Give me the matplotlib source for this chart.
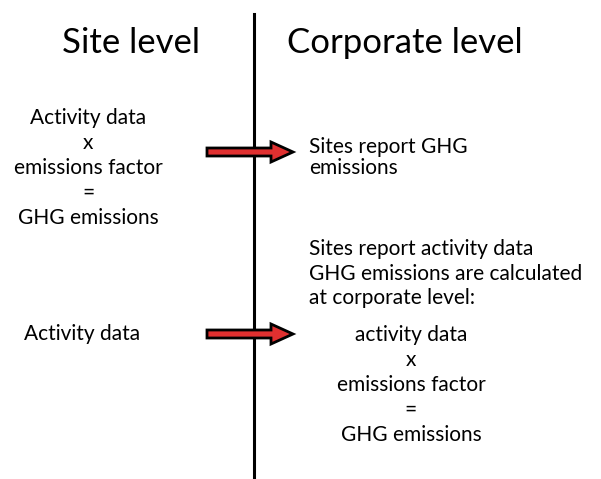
import matplotlib.pyplot as plt
from matplotlib.patches import FancyArrow

plt.rcParams['font.family'] = ['Lato', 'DejaVu Sans']

headers = ["Site level", "Corporate level"]
site_calc = ["Activity data", "x", "emissions factor", "=", "GHG emissions"]
corp_report = ["Sites report GHG", "emissions"]
corp_intro = ["Sites report activity data", "GHG emissions are calculated", "at corporate level:"]
corp_calc = ["activity data", "x", "emissions factor", "=", "GHG emissions"]
site_activity = "Activity data"

fig = plt.figure(figsize=(6.01, 4.79), dpi=100)
ax = fig.add_axes([0, 0, 1, 1])
ax.set_xlim(0, 601)
ax.set_ylim(479, 0)
ax.axis('off')

# divider
ax.plot([254, 254], [14, 479], color='black', lw=2.2)

ax.text(131, 43, headers[0], ha='center', va='center', fontsize=25)
ax.text(405, 43, headers[1], ha='center', va='center', fontsize=25)

fs = 15
for i, s in enumerate(site_calc):
    ax.text(88, 118 + i * 25, s, ha='center', va='center', fontsize=fs)
ax.text(24, 334, site_activity, ha='left', va='center', fontsize=fs)

for i, s in enumerate(corp_report):
    ax.text(309, 147 + i * 21, s, ha='left', va='center', fontsize=fs)
for i, s in enumerate(corp_intro):
    ax.text(309, 249 + i * 24.5, s, ha='left', va='center', fontsize=fs)
for i, s in enumerate(corp_calc):
    ax.text(411, 335 + i * 25, s, ha='center', va='center', fontsize=fs)

# arrows
for y in [152, 334]:
    ax.add_patch(FancyArrow(207, y, 86, 0, width=8, head_width=20, head_length=22,
                            length_includes_head=True, facecolor='#e03030',
                            edgecolor='black', lw=2, zorder=3))

fig.savefig('out.png', dpi=100)
